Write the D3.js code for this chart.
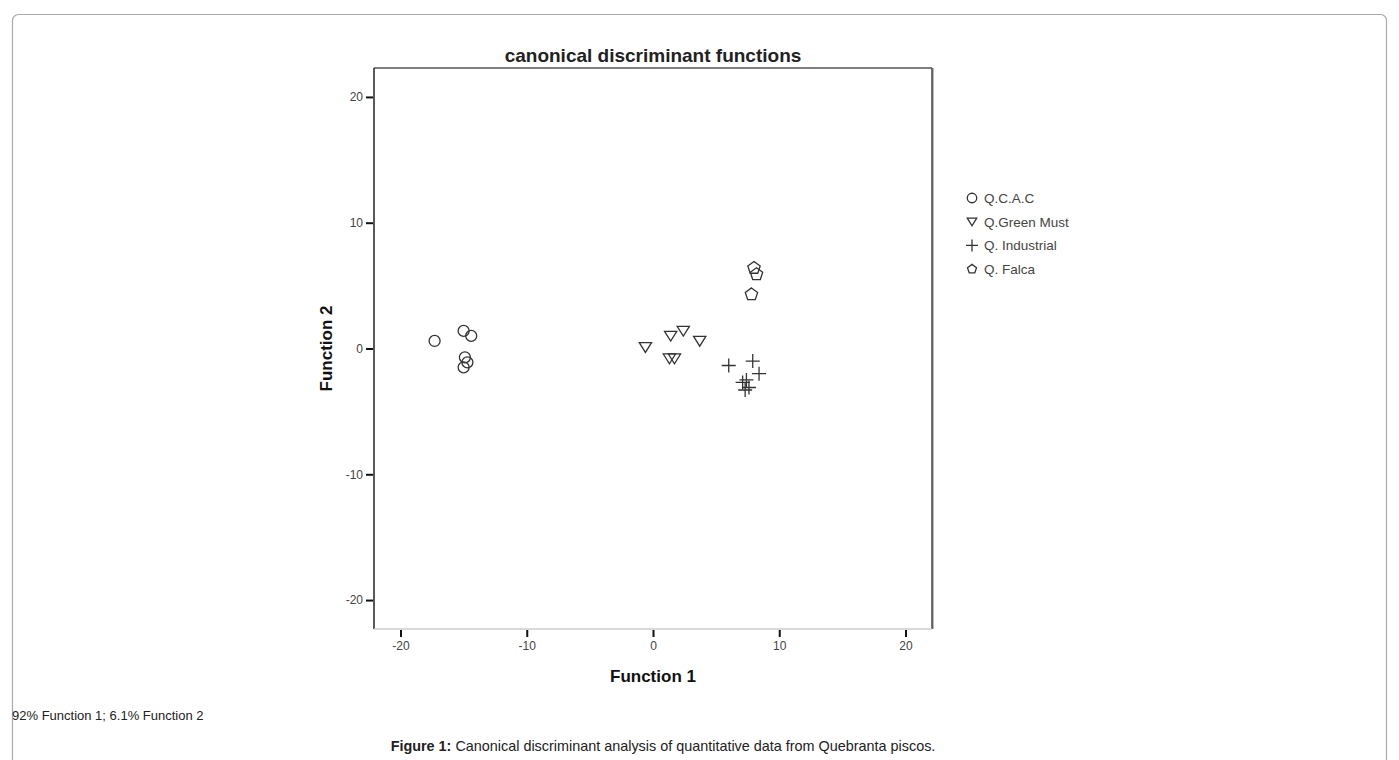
<!DOCTYPE html>
<html>
<head>
<meta charset="utf-8">
<script src="https://cdn.jsdelivr.net/npm/d3@7"></script>
<style>
  body { margin: 0; background: #fff; }
  svg { display: block; }
</style>
</head>
<body>
<div id="plot"></div>
<script>
// data
const groups = ["Q.C.A.C", "Q.Green Must", "Q. Industrial", "Q. Falca"];
const cacX = [-17.3, -15.0, -14.4, -14.9, -14.7, -15.0];
const cacY = [0.6, 1.4, 1.0, -0.7, -1.1, -1.5];
const greenX = [-0.6, 1.4, 2.4, 3.7, 1.3, 1.7];
const greenY = [0.1, 1.0, 1.4, 0.6, -0.8, -0.8];
const indX = [6.0, 7.9, 8.4, 7.1, 7.4, 7.6, 7.3];
const indY = [-1.35, -1.0, -2.0, -2.7, -2.5, -3.1, -3.3];
const falX = [8.0, 8.2, 7.8];
const falY = [6.4, 5.9, 4.3];
const ticks = [-20, -10, 0, 10, 20];

const W = 1399, H = 760;
const narrow = "'Liberation Sans Narrow', 'Arial Narrow', 'Liberation Sans', Arial, sans-serif";
const sans = "'Liberation Sans', Arial, sans-serif";

var svg = d3.select("div#plot")
  .append("svg")
    .attr("width", W)
    .attr("height", H);

// page frame
svg.append("rect")
  .attr("x", 12.5).attr("y", 14.5)
  .attr("width", 1374).attr("height", 800)
  .attr("rx", 6)
  .style("fill", "none")
  .style("stroke", "#aaa")
  .style("stroke-width", 1.2);

var x = d3.scaleLinear().domain([-22.1, 22.1]).range([374, 932]);
var y = d3.scaleLinear().domain([-22.3, 22.3]).range([629, 68]);

// plot box
svg.append("line").attr("x1", x(-22.1)).attr("x2", x(22.1)).attr("y1", y(22.3)).attr("y2", y(22.3))
  .style("stroke", "#555").style("stroke-width", 1.5);
svg.append("line").attr("x1", x(-22.1)).attr("x2", x(-22.1)).attr("y1", y(22.3)).attr("y2", y(-22.3))
  .style("stroke", "#222").style("stroke-width", 1.5);
svg.append("line").attr("x1", x(22.1) + 1).attr("x2", x(22.1) + 1).attr("y1", y(22.3)).attr("y2", y(-22.3))
  .style("stroke", "#bbb").style("stroke-width", 2);
svg.append("line").attr("x1", x(22.1)).attr("x2", x(22.1)).attr("y1", y(22.3)).attr("y2", y(-22.3))
  .style("stroke", "#444").style("stroke-width", 1.5);
svg.append("line").attr("x1", x(-22.1)).attr("x2", x(22.1)).attr("y1", y(-22.3)).attr("y2", y(-22.3))
  .style("stroke", "#ccc").style("stroke-width", 1.5);

// axes
var yAxis = svg.append("g")
  .attr("transform", `translate(${x(-22.1) - 1}, 0)`)
  .call(d3.axisLeft(y).tickValues(ticks).tickFormat(d => String(d)).tickSize(7).tickPadding(3).tickSizeOuter(0));
var xAxis = svg.append("g")
  .attr("transform", `translate(0, ${y(-22.3) + 1})`)
  .call(d3.axisBottom(x).tickValues(ticks).tickFormat(d => String(d)).tickSize(7).tickPadding(4).tickSizeOuter(0));

[xAxis, yAxis].forEach(function(a) {
  a.select(".domain").remove();
  a.selectAll(".tick line").style("stroke", "#111").style("stroke-width", 2);
  a.selectAll(".tick text")
    .style("font-family", narrow)
    .style("font-size", "12px")
    .style("fill", "#444");
});

// titles
svg.append("text")
  .attr("x", 653).attr("y", 62)
  .attr("text-anchor", "middle")
  .style("font-family", narrow)
  .style("font-weight", "bold")
  .style("font-size", "19px")
  .style("fill", "#222")
  .text("canonical discriminant functions");

svg.append("text")
  .attr("x", 653).attr("y", 682)
  .attr("text-anchor", "middle")
  .style("font-family", narrow)
  .style("font-weight", "bold")
  .style("font-size", "17px")
  .style("fill", "#111")
  .text("Function 1");

svg.append("text")
  .attr("transform", `translate(332, ${y(0)}) rotate(-90)`)
  .attr("text-anchor", "middle")
  .style("font-family", narrow)
  .style("font-weight", "bold")
  .style("font-size", "17px")
  .style("fill", "#111")
  .text("Function 2");

// symbol shapes
var plus = {
  draw: function(ctx, size) {
    var r = Math.sqrt(size) / 2;
    ctx.moveTo(-r, 0); ctx.lineTo(r, 0);
    ctx.moveTo(0, -r); ctx.lineTo(0, r);
  }
};
var pentagon = {
  draw: function(ctx, size) {
    var r = Math.sqrt(size) / 2;
    for (var i = 0; i < 5; i++) {
      var a = -Math.PI / 2 + i * 2 * Math.PI / 5;
      if (i === 0) ctx.moveTo(r * Math.cos(a), r * Math.sin(a));
      else ctx.lineTo(r * Math.cos(a), r * Math.sin(a));
    }
    ctx.closePath();
  }
};
var downTri = {
  draw: function(ctx, size) {
    var r = Math.sqrt(size) / 2;
    ctx.moveTo(-r, -r * 0.75);
    ctx.lineTo(r, -r * 0.75);
    ctx.lineTo(0, r * 0.85);
    ctx.closePath();
  }
};
var circ = {
  draw: function(ctx, size) {
    var r = Math.sqrt(size) / 2;
    ctx.moveTo(r, 0);
    ctx.arc(0, 0, r, 0, 2 * Math.PI);
  }
};

var shapes = [
  {type: circ, size: 121},
  {type: downTri, size: 150},
  {type: plus, size: 196},
  {type: pentagon, size: 169}
];

var series = [
  d3.zip(cacX, cacY),
  d3.zip(greenX, greenY),
  d3.zip(indX, indY),
  d3.zip(falX, falY)
];

series.forEach(function(pts, k) {
  svg.append("g")
    .selectAll("path")
    .data(pts)
    .enter().append("path")
      .attr("transform", d => `translate(${x(d[0])}, ${y(d[1])})`)
      .attr("d", d3.symbol().type(shapes[k].type).size(shapes[k].size))
      .style("fill", "none")
      .style("stroke", "#333")
      .style("stroke-width", 1.3);
});

// legend
var legend = svg.append("g").attr("transform", "translate(972, 198)");
groups.forEach(function(g, k) {
  legend.append("path")
    .attr("transform", `translate(0, ${k * 23.7})`)
    .attr("d", d3.symbol().type(shapes[k].type).size(k === 2 ? 144 : 90))
    .style("fill", "none")
    .style("stroke", "#333")
    .style("stroke-width", 1.3);
  legend.append("text")
    .attr("x", 12).attr("y", k * 23.7 + 5)
    .style("font-family", sans)
    .style("font-size", "13.5px")
    .style("fill", "#444")
    .text(g);
});

// notes below
svg.append("text")
  .attr("x", 12).attr("y", 720)
  .style("font-family", sans)
  .style("font-size", "13px")
  .style("fill", "#222")
  .text("92% Function 1; 6.1% Function 2");

var cap = svg.append("text")
  .attr("x", 663).attr("y", 751)
  .attr("text-anchor", "middle")
  .style("font-family", sans)
  .style("font-size", "14.4px")
  .style("fill", "#222");
cap.append("tspan").style("font-weight", "bold").text("Figure 1:");
cap.append("tspan").text(" Canonical discriminant analysis of quantitative data from Quebranta piscos.");
</script>
</body>
</html>
